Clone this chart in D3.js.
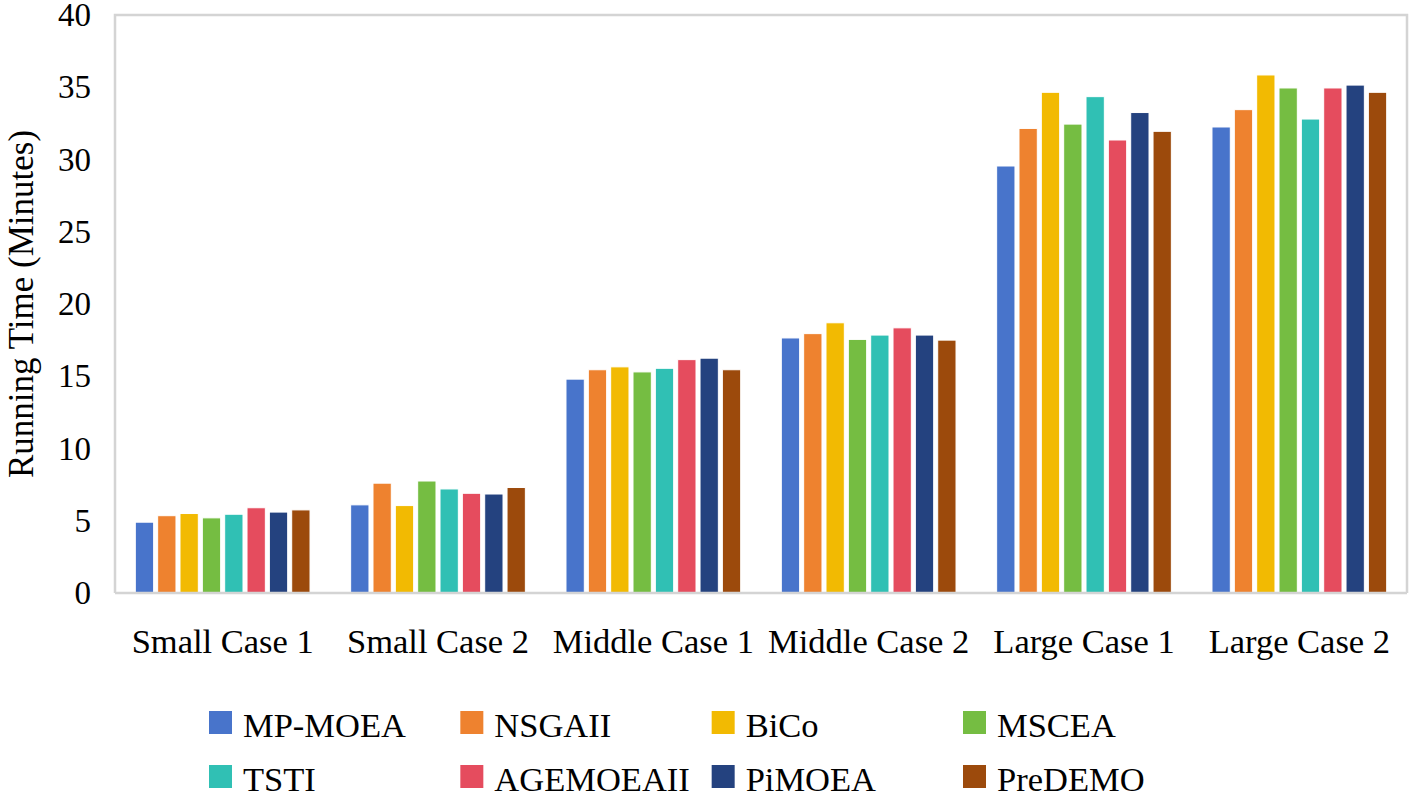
<!DOCTYPE html>
<html>
<head>
<meta charset="utf-8">
<script src="https://cdn.jsdelivr.net/npm/d3@7"></script>
<style>
  html, body { margin: 0; padding: 0; background: #ffffff; }
  svg { display: block; }
  text { font-family: "Liberation Serif", "Times New Roman", serif; fill: #000; }
</style>
</head>
<body>
<svg id="chart" width="1413" height="799"></svg>
<script>
const categories = ["Small Case 1", "Small Case 2", "Middle Case 1", "Middle Case 2", "Large Case 1", "Large Case 2"];
const seriesNames = ["MP-MOEA", "NSGAII", "BiCo", "MSCEA", "TSTI", "AGEMOEAII", "PiMOEA", "PreDEMO"];
const seriesColors = ["#4874CB", "#EE822F", "#F2BA02", "#75BD42", "#30C0B4", "#E54C5E", "#24427F", "#9C4A0C"];
const mpMoea   = [4.9, 6.1, 14.8, 17.65, 29.55, 32.25];
const nsgaii   = [5.35, 7.6, 15.45, 17.95, 32.15, 33.45];
const bico     = [5.5, 6.05, 15.65, 18.7, 34.65, 35.85];
const mscea    = [5.2, 7.75, 15.3, 17.55, 32.45, 34.95];
const tsti     = [5.45, 7.2, 15.55, 17.85, 34.35, 32.8];
const agemoea  = [5.9, 6.9, 16.15, 18.35, 31.35, 34.95];
const pimoea   = [5.6, 6.85, 16.25, 17.85, 33.25, 35.15];
const predemo  = [5.75, 7.3, 15.45, 17.5, 31.95, 34.65];
const yTicks = [0, 5, 10, 15, 20, 25, 30, 35, 40];

const seriesValues = [mpMoea, nsgaii, bico, mscea, tsti, agemoea, pimoea, predemo];

const svg = d3.select("#chart");
const plotLeft = 115, plotRight = 1407, plotTop = 15, plotBottom = 593;

const x0 = d3.scaleBand().domain(categories).range([plotLeft, plotRight])
  .paddingInner(0.17).paddingOuter(0.085);
const x1 = d3.scaleBand().domain(seriesNames).range([0, x0.bandwidth()])
  .paddingInner(0.18).paddingOuter(0.09);
const y = d3.scaleLinear().domain([0, 40]).range([plotBottom, plotTop]);
const color = d3.scaleOrdinal().domain(seriesNames).range(seriesColors);

// frame
svg.append("path")
  .attr("d", `M${plotLeft},${plotBottom}V${plotTop}H${plotRight}V${plotBottom}`)
  .attr("fill", "none").attr("stroke", "#d4d4d4").attr("stroke-width", 2.5);

// bars
const groups = svg.append("g").selectAll("g")
  .data(categories).join("g")
  .attr("transform", d => `translate(${x0(d)},0)`);
groups.selectAll("rect")
  .data((c, ci) => seriesNames.map((s, si) => ({ s, v: seriesValues[si][ci] })))
  .join("rect")
  .attr("x", d => x1(d.s))
  .attr("width", x1.bandwidth())
  .attr("y", d => y(d.v))
  .attr("height", d => y(0) - y(d.v))
  .attr("fill", d => color(d.s))
  .attr("stroke", "#ffffff").attr("stroke-width", 1);

// bottom axis line
svg.append("line")
  .attr("x1", plotLeft).attr("x2", plotRight).attr("y1", plotBottom).attr("y2", plotBottom)
  .attr("stroke", "#d4d4d4").attr("stroke-width", 2.5);

// y axis
const yAxis = svg.append("g")
  .attr("transform", `translate(${plotLeft},0)`)
  .call(d3.axisLeft(y).tickValues(yTicks).tickSize(0).tickPadding(24));
yAxis.select(".domain").remove();
yAxis.selectAll("text")
  .style("font-family", '"Liberation Serif", "Times New Roman", serif')
  .style("font-size", "33px").attr("fill", "#000");

// x axis
const xAxis = svg.append("g")
  .attr("transform", `translate(0,${plotBottom})`)
  .call(d3.axisBottom(x0).tickSize(0).tickPadding(0));
xAxis.select(".domain").remove();
xAxis.selectAll("text")
  .attr("dy", null).attr("y", 60)
  .style("font-family", '"Liberation Serif", "Times New Roman", serif')
  .style("font-size", "34.5px").attr("fill", "#000");

// y title
svg.append("text")
  .attr("transform", `translate(33,${(plotTop + plotBottom) / 2}) rotate(-90)`)
  .attr("text-anchor", "middle")
  .style("font-size", "35px")
  .text("Running Time (Minutes)");

// legend
const legX = d3.scalePoint().domain([0, 1, 2, 3]).range([209, 963]);
const legY = d3.scalePoint().domain([0, 1]).range([711, 765]);
const legend = svg.append("g").selectAll("g")
  .data(seriesNames).join("g")
  .attr("transform", (d, i) => `translate(${legX(i % 4)},${legY(Math.floor(i / 4))})`);
legend.append("rect")
  .attr("width", 23).attr("height", 23)
  .attr("fill", d => color(d));
legend.append("text")
  .attr("x", 34).attr("y", 26)
  .style("font-size", "34.5px")
  .text(d => d);
</script>
</body>
</html>
